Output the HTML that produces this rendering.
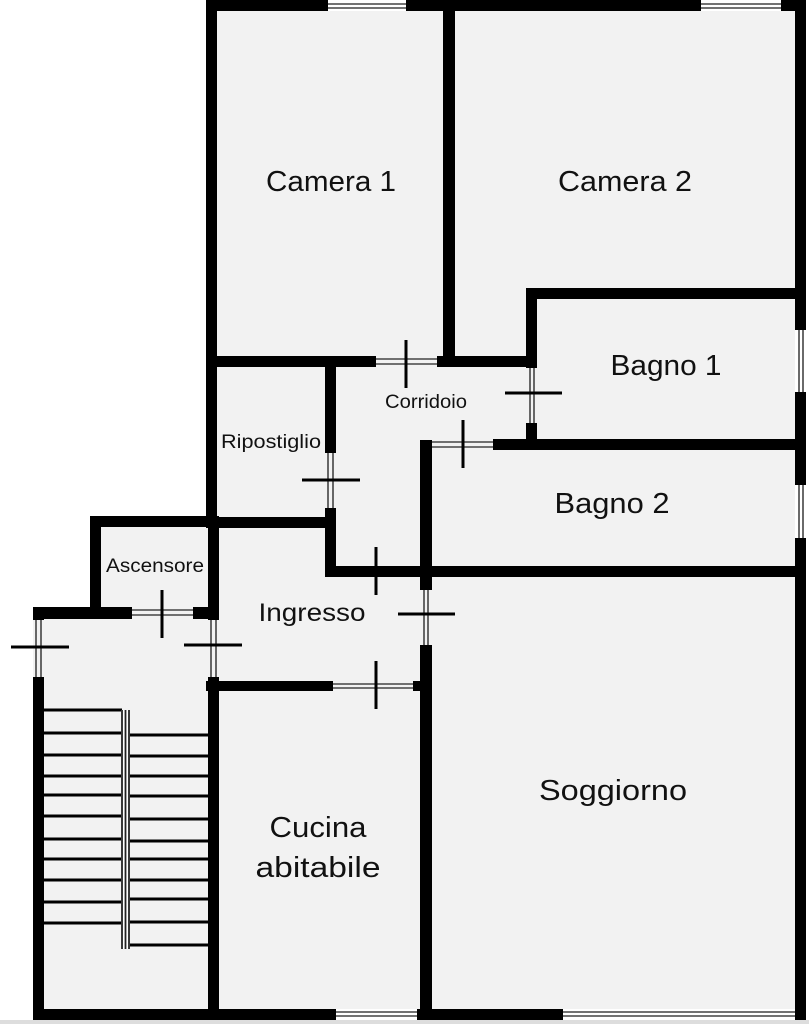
<!DOCTYPE html>
<html><head><meta charset="utf-8"><style>
html,body{margin:0;padding:0;background:#fff;}
svg{display:block;}
text{font-family:"Liberation Sans",sans-serif;fill:#111;text-anchor:middle;}
</style></head><body>
<svg width="809" height="1024" viewBox="0 0 809 1024" xmlns="http://www.w3.org/2000/svg">
<rect x="206" y="0" width="600" height="1020" fill="#f2f2f2"/>
<rect x="90" y="516" width="120" height="100" fill="#f2f2f2"/>
<rect x="33" y="607" width="180" height="413" fill="#f2f2f2"/>
<rect x="0" y="1020" width="809" height="4" fill="#ddd"/>
<g fill="#000">
<rect x="206" y="0" width="11" height="528"/>
<rect x="206" y="0" width="122" height="11"/>
<rect x="406" y="0" width="295" height="11"/>
<rect x="781" y="0" width="25" height="11"/>
<rect x="795" y="0" width="11" height="330"/>
<rect x="795" y="392" width="11" height="93"/>
<rect x="795" y="538" width="11" height="482"/>
<rect x="33" y="1009" width="303" height="11"/>
<rect x="417" y="1009" width="146" height="11"/>
<rect x="443" y="0" width="12" height="367"/>
<rect x="206" y="356" width="170" height="11"/>
<rect x="437" y="356" width="100" height="11"/>
<rect x="526" y="288" width="280" height="11"/>
<rect x="526" y="288" width="11" height="80"/>
<rect x="526" y="423" width="11" height="22"/>
<rect x="493" y="439" width="313" height="11"/>
<rect x="420" y="440" width="12" height="150"/>
<rect x="420" y="645" width="12" height="375"/>
<rect x="325" y="367" width="11" height="86"/>
<rect x="325" y="508" width="11" height="69"/>
<rect x="325" y="566" width="481" height="11"/>
<rect x="206" y="517" width="125" height="11"/>
<rect x="206" y="681" width="127" height="10"/>
<rect x="413" y="681" width="10" height="10"/>
<rect x="90" y="516" width="11" height="100"/>
<rect x="90" y="516" width="129" height="11"/>
<rect x="208" y="516" width="11" height="104"/>
<rect x="33" y="607" width="99" height="12"/>
<rect x="193" y="607" width="26" height="12"/>
<rect x="33" y="607" width="11" height="13"/>
<rect x="33" y="677" width="11" height="343"/>
<rect x="208" y="677" width="11" height="343"/>
</g>
<g fill="#fff" stroke="#444" stroke-width="1.6">
<rect x="328" y="0" width="78" height="11" stroke="none"/>
<line x1="328" y1="4" x2="406" y2="4"/><line x1="328" y1="8" x2="406" y2="8"/>
<rect x="701" y="0" width="80" height="11" stroke="none"/>
<line x1="701" y1="4" x2="781" y2="4"/><line x1="701" y1="8" x2="781" y2="8"/>
<rect x="336" y="1009" width="81" height="11" stroke="none"/>
<line x1="336" y1="1012" x2="417" y2="1012"/><line x1="336" y1="1016" x2="417" y2="1016"/>
<rect x="563" y="1009" width="232" height="11" stroke="none"/>
<line x1="563" y1="1012" x2="795" y2="1012"/><line x1="563" y1="1016" x2="795" y2="1016"/>
<rect x="795" y="330" width="11" height="62" stroke="none"/>
<line x1="799" y1="330" x2="799" y2="392"/><line x1="803" y1="330" x2="803" y2="392"/>
<rect x="795" y="485" width="11" height="53" stroke="none"/>
<line x1="799" y1="485" x2="799" y2="538"/><line x1="803" y1="485" x2="803" y2="538"/>
<line x1="376" y1="359" x2="437" y2="359"/><line x1="376" y1="364" x2="437" y2="364"/>
<line x1="530" y1="368" x2="530" y2="423"/><line x1="534" y1="368" x2="534" y2="423"/>
<line x1="432" y1="442" x2="493" y2="442"/><line x1="432" y1="447" x2="493" y2="447"/>
<line x1="328" y1="453" x2="328" y2="508"/><line x1="333" y1="453" x2="333" y2="508"/>
<line x1="424" y1="590" x2="424" y2="645"/><line x1="428" y1="590" x2="428" y2="645"/>
<line x1="333" y1="684" x2="413" y2="684"/><line x1="333" y1="688" x2="413" y2="688"/>
<line x1="36" y1="620" x2="36" y2="677"/><line x1="41" y1="620" x2="41" y2="677"/>
<line x1="211" y1="620" x2="211" y2="677"/><line x1="216" y1="620" x2="216" y2="677"/>
<line x1="132" y1="610" x2="193" y2="610"/><line x1="132" y1="615" x2="193" y2="615"/>
</g>
<g stroke="#000" stroke-width="3">
<line x1="406" y1="340" x2="406" y2="388"/>
<line x1="505" y1="393" x2="562" y2="393"/>
<line x1="463" y1="420" x2="463" y2="468"/>
<line x1="302" y1="480" x2="360" y2="480"/>
<line x1="376" y1="547" x2="376" y2="595"/>
<line x1="398" y1="614" x2="455" y2="614"/>
<line x1="376" y1="661" x2="376" y2="709"/>
<line x1="11" y1="647" x2="69" y2="647"/>
<line x1="162" y1="590" x2="162" y2="638"/>
<line x1="184" y1="645" x2="242" y2="645"/>
</g>
<g stroke="#000" stroke-width="3">
<line x1="44" y1="710" x2="122" y2="710"/><line x1="44" y1="733" x2="122" y2="733"/>
<line x1="44" y1="755" x2="122" y2="755"/><line x1="44" y1="776" x2="122" y2="776"/>
<line x1="44" y1="795" x2="122" y2="795"/><line x1="44" y1="816" x2="122" y2="816"/>
<line x1="44" y1="839" x2="122" y2="839"/><line x1="44" y1="859" x2="122" y2="859"/>
<line x1="44" y1="880" x2="122" y2="880"/><line x1="44" y1="902" x2="122" y2="902"/>
<line x1="44" y1="923" x2="122" y2="923"/>
<line x1="130" y1="735" x2="208" y2="735"/><line x1="130" y1="756" x2="208" y2="756"/>
<line x1="130" y1="776" x2="208" y2="776"/><line x1="130" y1="796" x2="208" y2="796"/>
<line x1="130" y1="819" x2="208" y2="819"/><line x1="130" y1="841" x2="208" y2="841"/>
<line x1="130" y1="859" x2="208" y2="859"/><line x1="130" y1="880" x2="208" y2="880"/>
<line x1="130" y1="899" x2="208" y2="899"/><line x1="130" y1="922" x2="208" y2="922"/>
<line x1="130" y1="945" x2="208" y2="945"/>
</g>
<rect x="121" y="710" width="9" height="239" fill="#fff"/>
<g stroke="#222" stroke-width="1.8">
<line x1="122" y1="710" x2="122" y2="949"/><line x1="125.5" y1="710" x2="125.5" y2="949"/><line x1="129" y1="710" x2="129" y2="949"/>
</g>
<g lengthAdjust="spacingAndGlyphs">
<text x="331" y="191" font-size="29" textLength="130" lengthAdjust="spacingAndGlyphs">Camera 1</text>
<text x="625" y="191" font-size="29" textLength="134" lengthAdjust="spacingAndGlyphs">Camera 2</text>
<text x="666" y="375" font-size="29" textLength="111" lengthAdjust="spacingAndGlyphs">Bagno 1</text>
<text x="612" y="513" font-size="29" textLength="115" lengthAdjust="spacingAndGlyphs">Bagno 2</text>
<text x="613" y="800" font-size="29" textLength="148" lengthAdjust="spacingAndGlyphs">Soggiorno</text>
<text x="318" y="837" font-size="29" textLength="97" lengthAdjust="spacingAndGlyphs">Cucina</text>
<text x="318" y="877" font-size="29" textLength="125" lengthAdjust="spacingAndGlyphs">abitabile</text>
<text x="312" y="621" font-size="25" textLength="107" lengthAdjust="spacingAndGlyphs">Ingresso</text>
<text x="426" y="408" font-size="19" textLength="82" lengthAdjust="spacingAndGlyphs">Corridoio</text>
<text x="271" y="448" font-size="19" textLength="100" lengthAdjust="spacingAndGlyphs">Ripostiglio</text>
<text x="155" y="572" font-size="19" textLength="98" lengthAdjust="spacingAndGlyphs">Ascensore</text>
</g>
</svg>
</body></html>
